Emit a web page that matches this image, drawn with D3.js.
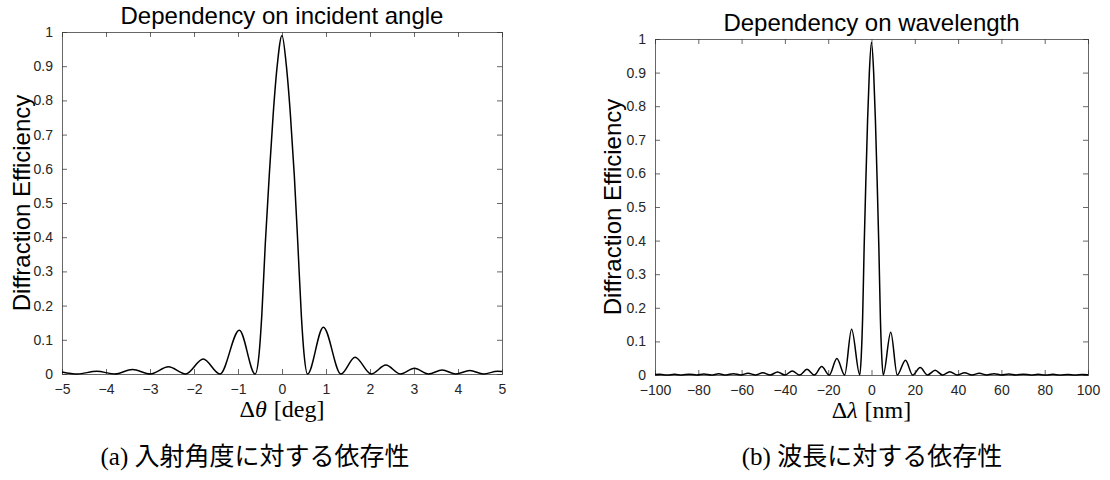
<!DOCTYPE html>
<html>
<head>
<meta charset="utf-8">
<script src="https://cdn.jsdelivr.net/npm/d3@7"></script>
<style>
  body { margin: 0; background: #fff; }
  svg { display: block; }
  .tick text { font-family: "Liberation Sans", Arial, sans-serif; font-size: 14px; fill: #262626; }
</style>
</head>
<body>
<svg width="1110" height="480"></svg>
<script>
// (a) dependency on incident angle
var angleX   = [-5, -4.65, -4.21, -3.80, -3.40, -2.99, -2.58, -2.19, -1.79, -1.41, -0.97, -0.61, -0.52, -0.46, -0.38, -0.29, -0.20, -0.11, 0,
                0.10, 0.19, 0.28, 0.36, 0.44, 0.50, 0.58, 0.94, 1.34, 1.66, 2.03, 2.36, 2.69, 3.01, 3.33, 3.64, 3.95, 4.27, 4.58, 4.90, 5];
var angleEff = [0.006, 0, 0.008, 0, 0.013, 0, 0.021, 0, 0.044, 0, 0.128, 0, 0.06, 0.17, 0.38, 0.58, 0.76, 0.90, 0.99,
                0.90, 0.76, 0.58, 0.38, 0.17, 0.06, 0, 0.137, 0, 0.049, 0, 0.026, 0, 0.017, 0, 0.012, 0, 0.010, 0, 0.008, 0.007];

// (b) dependency on wavelength
var waveX   = [-100, -97.8, -94.4, -91.0, -87.6, -84.2, -80.8, -77.4, -74.0, -70.6, -67.2, -63.8, -60.4, -57.0, -53.6, -50.2, -46.8, -43.4, -40.0,
               -36.6, -33.2, -29.8, -26.4, -23.0, -19.5, -16.0, -12.4, -9.2, -5.4, -4.7, -4.1, -3.4, -2.6, -1.8, -1.0, 0,
               1.0, 1.8, 2.6, 3.4, 4.1, 4.7, 5.4, 8.9, 11.9, 15.7, 19.0, 22.5, 25.9, 29.4, 32.8, 36.2, 39.6, 43.0, 46.4, 49.8,
               53.2, 56.6, 60.0, 63.4, 66.8, 70.2, 73.6, 77.0, 80.4, 83.8, 87.2, 90.6, 94.0, 97.4, 100];
var waveEff = [0.0015, 0.002, 0, 0.002, 0, 0.0025, 0, 0.003, 0, 0.0035, 0, 0.004, 0, 0.005, 0, 0.007, 0, 0.009, 0,
               0.012, 0, 0.017, 0, 0.025, 0, 0.049, 0, 0.136, 0, 0.06, 0.17, 0.38, 0.58, 0.76, 0.90, 0.99,
               0.90, 0.76, 0.58, 0.38, 0.17, 0.06, 0, 0.127, 0, 0.044, 0, 0.022, 0, 0.014, 0, 0.010, 0, 0.007, 0, 0.005,
               0, 0.004, 0, 0.003, 0, 0.0025, 0, 0.002, 0, 0.002, 0, 0.0015, 0, 0.0015, 0.001];

var angleTicks = [-5, -4, -3, -2, -1, 0, 1, 2, 3, 4, 5];
var waveTicks  = [-100, -80, -60, -40, -20, 0, 20, 40, 60, 80, 100];
var effTicks   = [0, 0.1, 0.2, 0.3, 0.4, 0.5, 0.6, 0.7, 0.8, 0.9, 1];

var svg = d3.select("svg");

function panel(opt) {
  var x = d3.scaleLinear().domain(opt.xDomain).range([opt.left, opt.right]);
  var y = d3.scaleLinear().domain([0, 1]).range([opt.bottom, opt.top]);
  var g = svg.append("g");
  var tl = 5;

  // axes box with inward ticks, matlab style
  g.append("g").attr("transform", "translate(0," + opt.bottom + ")")
    .call(d3.axisBottom(x).tickValues(opt.xTicks).tickSize(-tl).tickPadding(5 + tl).tickFormat(d3.format("")));
  g.append("g").attr("transform", "translate(0," + opt.top + ")")
    .call(d3.axisTop(x).tickValues(opt.xTicks).tickSize(-tl).tickFormat(""));
  g.append("g").attr("transform", "translate(" + opt.left + ",0)")
    .call(d3.axisLeft(y).tickValues(effTicks).tickSize(-tl).tickPadding(4 + tl).tickFormat(d3.format("")));
  g.append("g").attr("transform", "translate(" + opt.right + ",0)")
    .call(d3.axisRight(y).tickValues(effTicks).tickSize(-tl).tickFormat(""));
  g.selectAll(".domain").attr("stroke", "#404040").attr("stroke-width", 0.8);
  g.selectAll(".tick line").attr("stroke", "#404040").attr("stroke-width", 0.8);

  var line = d3.line()
    .x(function(d) { return x(d[0]); })
    .y(function(d) { return y(d[1]); })
    .curve(d3.curveMonotoneX);
  g.append("path")
    .datum(d3.zip(opt.xs, opt.ys))
    .attr("fill", "none")
    .attr("stroke", "#000")
    .attr("stroke-width", 1.5)
    .attr("d", line);

  var cx = (opt.left + opt.right) / 2;
  g.append("text")
    .attr("x", cx).attr("y", opt.top - 8)
    .attr("text-anchor", "middle")
    .style("font-family", "Liberation Sans, Arial, sans-serif")
    .style("font-size", "24px")
    .text(opt.title);

  g.append("text")
    .attr("transform", "translate(" + opt.yLabelX + "," + (opt.top + opt.bottom) / 2 + ") rotate(-90)")
    .attr("text-anchor", "middle")
    .style("font-family", "Liberation Sans, Arial, sans-serif")
    .style("font-size", "24px")
    .text("Diffraction Efficiency");

  var xl = g.append("text")
    .attr("x", cx).attr("y", opt.bottom + 43)
    .attr("text-anchor", "middle")
    .style("font-family", "Liberation Serif, DejaVu Serif, serif")
    .style("font-size", "24px");
  xl.append("tspan").text("\u0394");
  xl.append("tspan").style("font-style", "italic").text(opt.sym);
  xl.append("tspan").attr("dx", 7).text("[" + opt.unit + "]");

  var cap = g.append("text")
    .attr("x", opt.capX).attr("y", 465)
    .attr("text-anchor", "middle")
    .style("font-size", "25px");
  cap.append("tspan").style("font-family", "Liberation Serif, serif").text(opt.capTag + " ");
  cap.append("tspan").style("font-family", "Noto Sans CJK JP, sans-serif").text(opt.capText);
}

panel({
  xDomain: [-5, 5], xTicks: angleTicks, xs: angleX, ys: angleEff,
  left: 62, right: 502, top: 32, bottom: 374,
  title: "Dependency on incident angle", yLabelX: 30,
  sym: "\u03B8", unit: "deg",
  capX: 255, capTag: "(a)", capText: "入射角度に対する依存性"
});

panel({
  xDomain: [-100, 100], xTicks: waveTicks, xs: waveX, ys: waveEff,
  left: 655, right: 1088, top: 39, bottom: 375,
  title: "Dependency on wavelength", yLabelX: 621,
  sym: "\u03BB", unit: "nm",
  capX: 872, capTag: "(b)", capText: "波長に対する依存性"
});
</script>
</body>
</html>
